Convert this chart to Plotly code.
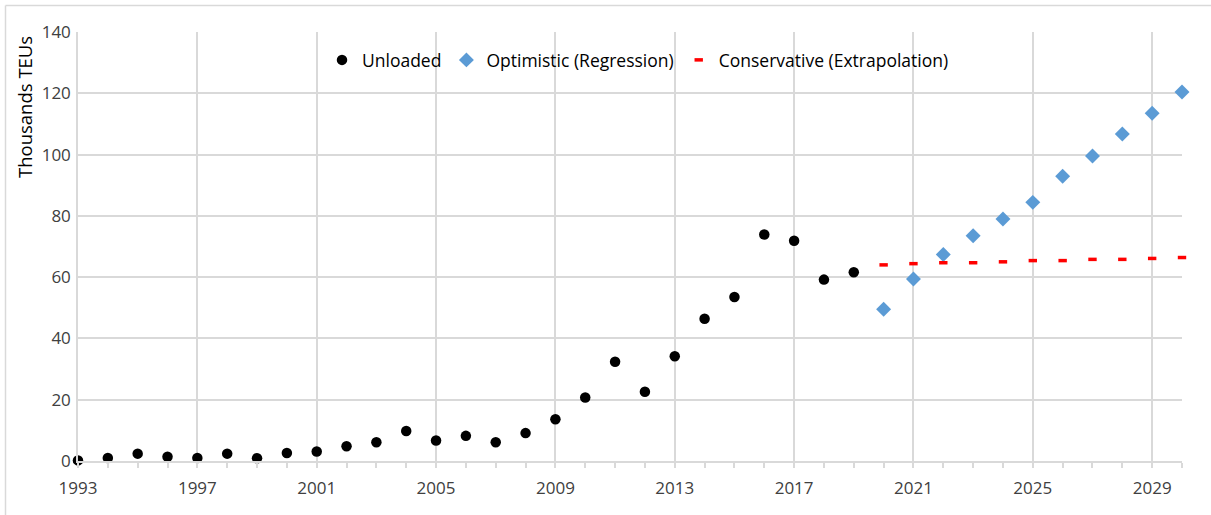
import plotly.graph_objects as go

# Container throughput, thousands of TEUs
years_hist = list(range(1993, 2020))
unloaded = [0.2, 1.0, 2.4, 1.4, 1.0, 2.4, 0.9, 2.6, 3.1, 4.8, 6.1, 9.8, 6.7, 8.2,
            6.1, 9.1, 13.6, 20.7, 32.4, 22.6, 34.2, 46.4, 53.5, 73.9, 71.9, 59.2, 61.6]

years_proj = list(range(2020, 2031))
optimistic = [49.5, 59.4, 67.4, 73.5, 79.0, 84.4, 92.9, 99.5, 106.7, 113.5, 120.4]
conservative = [64.0, 64.4, 64.7, 64.7, 65.0, 65.4, 65.4, 65.8, 65.8, 66.1, 66.4]

grid_color = "#d9d9d9"
text_color = "#404040"
font_family = "Open Sans, Noto Sans, sans-serif"

fig = go.Figure()

fig.add_trace(go.Scatter(
    x=years_hist, y=unloaded, mode="markers", name="Unloaded", cliponaxis=False,
    marker=dict(symbol="circle", size=10.5, color="black"),
))
fig.add_trace(go.Scatter(
    x=years_proj, y=optimistic, mode="markers", name="Optimistic (Regression)",
    cliponaxis=False,
    marker=dict(symbol="diamond", size=11.5, color="#5b9bd5"),
))
fig.add_trace(go.Scatter(
    x=years_proj, y=conservative, mode="markers", name="Conservative (Extrapolation)",
    cliponaxis=False,
    marker=dict(symbol="line-ew", size=6, color="red",
                line=dict(color="red", width=3.5)),
))

# chart frame (left and top edges)
L, R, T, B = 78, 29, 32, 54
pw, ph = 1211 - L - R, 515 - T - B
px = lambda p: (p - L) / pw
py = lambda q: (515 - B - q) / ph
fig.add_shape(type="line", xref="paper", yref="paper",
              x0=px(5.5), x1=px(1215), y0=py(5.5), y1=py(5.5),
              line=dict(color=grid_color, width=1.5))
fig.add_shape(type="line", xref="paper", yref="paper",
              x0=px(5.5), x1=px(5.5), y0=py(5.5), y1=py(520),
              line=dict(color=grid_color, width=1.5))

fig.add_annotation(
    text="Thousands TEUs", textangle=-90, xref="paper", yref="paper",
    x=px(25), y=py(107), xanchor="center", yanchor="middle", showarrow=False,
    font=dict(family=font_family, size=18.5, color="black"),
)

fig.update_layout(
    width=1211, height=515,
    margin=dict(l=L, r=R, t=T, b=B),
    paper_bgcolor="white", plot_bgcolor="white",
    font=dict(family=font_family, size=17, color=text_color),
    showlegend=True,
    legend=dict(orientation="h", x=px(322), y=py(60), xanchor="left", yanchor="middle",
                bgcolor="rgba(0,0,0,0)", font=dict(size=17.5, color="black"),
                itemwidth=30, tracegroupgap=0),
)

fig.update_xaxes(
    range=[1993, 2030], tick0=1993, dtick=4,
    showgrid=True, gridcolor=grid_color, gridwidth=1.5,
    showline=True, linecolor=grid_color, linewidth=1.5,
    ticks="outside", ticklen=5, tickcolor=grid_color, tickwidth=1.5,
    minor=dict(dtick=1, ticks="outside", ticklen=5, tickcolor=grid_color, tickwidth=1.5, showgrid=False),
    zeroline=False, tickfont=dict(size=17, color=text_color), ticklabelstandoff=6,
)
fig.update_yaxes(
    range=[0, 140], dtick=20,
    showgrid=True, gridcolor=grid_color, gridwidth=1.5,
    showline=True, linecolor=grid_color, linewidth=1.5,
    zeroline=False, ticks="", tickfont=dict(size=17, color=text_color),
    ticklabelstandoff=2,
)

fig.write_html("out.html")
